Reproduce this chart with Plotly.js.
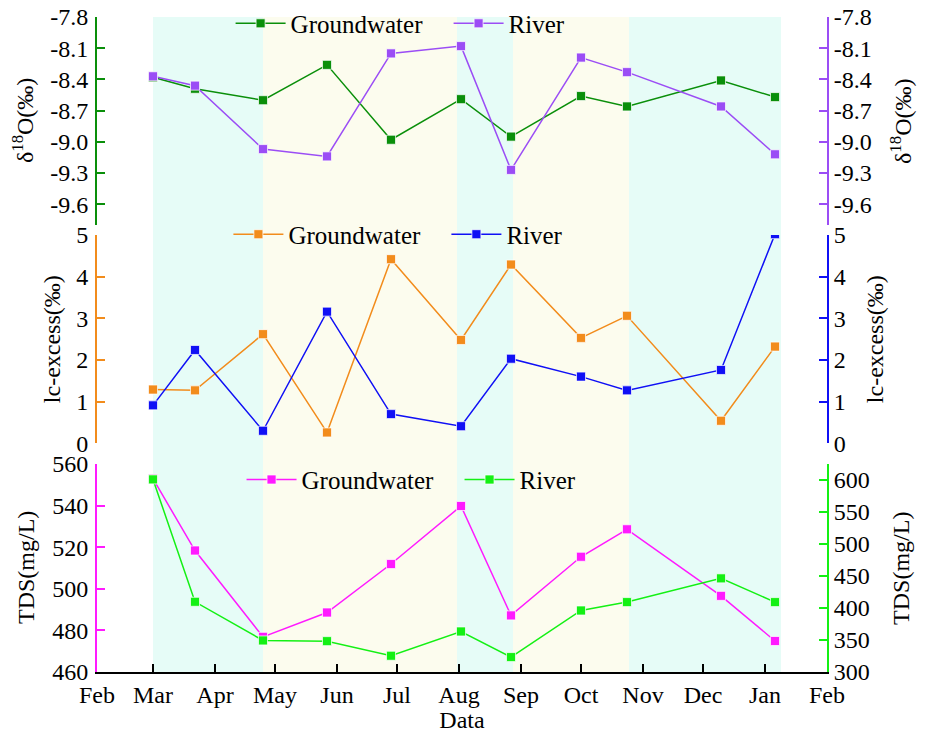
<!DOCTYPE html>
<html>
<head>
<meta charset="utf-8">
<script src="https://cdn.plot.ly/plotly-3.0.1.min.js"></script>
<style>html,body{margin:0;padding:0;background:#fff;}#chart{width:927px;height:733px;}</style>
</head>
<body>
<div id="chart"></div>
<script>
// ---- data ----
const sampleDates = ['2021-03-01','2021-03-22','2021-04-25','2021-05-27','2021-06-28','2021-08-02','2021-08-27','2021-10-01','2021-10-24','2021-12-10','2022-01-06'];
const d18O_groundwater = [-8.38,-8.49,-8.60,-8.26,-8.98,-8.59,-8.95,-8.56,-8.66,-8.41,-8.57];
const d18O_river = [-8.37,-8.46,-9.07,-9.14,-8.15,-8.08,-9.27,-8.19,-8.33,-8.66,-9.12];
const lcexcess_groundwater = [1.29,1.27,2.62,0.26,4.42,2.48,4.29,2.53,3.06,0.54,2.32];
const lcexcess_river = [0.91,2.24,0.30,3.16,0.70,0.41,2.03,1.60,1.27,1.76,5.02];
const tds_groundwater = [552.9,518.4,476.9,488.6,511.9,539.8,487.2,515.4,528.6,496.6,474.9];
const tds_river = [600.9,409.7,349.3,348.2,325.4,363.3,323.3,396.1,409.2,446.3,409.2];
const periodStart = ['2021-03-01','2021-04-25','2021-07-31','2021-08-28','2021-10-25'];
const periodEnd   = ['2021-04-25','2021-07-31','2021-08-28','2021-10-25','2022-01-09'];
const periodType  = ['A','B','A','B','A'];
const d18OTickVals = [-7.8,-8.1,-8.4,-8.7,-9.0,-9.3,-9.6];
const d18OTickText = ['-7.8','-8.1','-8.4','-8.7','-9.0','-9.3','-9.6'];
const seriesNames = ['Groundwater','River'];
const axisTitles = ['δ<sup>18</sup>O(‰)','lc-excess(‰)','TDS(mg/L)'];

// ---- styles ----
const FONT = '"Liberation Serif", "Times New Roman", serif';
const C = {
  gw1:'#0A8F0A', rv1:'#9B4DF5',
  gw2:'#F28C1C', rv2:'#1010F5',
  gw3:'#FF1AFF', rv3:'#14F014'
};
const periodColor = {A:'#E6FCF7', B:'#FCFCEE'};

function tr(y, name, color, yaxis, legend){
  return {
    x: sampleDates, y: y, name: name, type:'scatter', mode:'lines+markers',
    yaxis: yaxis, xaxis:'x', legend: legend,
    line:{color:color, width:1.5},
    marker:{symbol:'square', size:9, color:color, line:{color:'rgba(255,255,255,0.7)', width:1}}
  };
}
const data = [
  tr(d18O_groundwater, seriesNames[0], C.gw1, 'y', 'legend'),
  tr(d18O_river, seriesNames[1], C.rv1, 'y2', 'legend'),
  tr(lcexcess_groundwater, seriesNames[0], C.gw2, 'y3', 'legend2'),
  tr(lcexcess_river, seriesNames[1], C.rv2, 'y4', 'legend2'),
  tr(tds_groundwater, seriesNames[0], C.gw3, 'y5', 'legend3'),
  tr(tds_river, seriesNames[1], C.rv3, 'y6', 'legend3')
];

const tickFont = {family:FONT, size:24, color:'#000'};
const titleFont = {family:FONT, size:24, color:'#000'};
function yax(color, extra){
  const right = extra.side === 'right';
  return Object.assign({
    showline:true, linecolor:color, linewidth:2,
    ticks:'inside', ticklen:8, tickwidth:2, tickcolor:color,
    showgrid:false, zeroline:false, tickfont:tickFont,
    ticklabelstandoff: right ? 0 : 2
  }, extra);
}
const domTop=[0.6824,1], domMid=[0.3492,0.6672], domBot=[0,0.3176];

const shapes = periodStart.map((s,i)=>({
  type:'rect', xref:'x', yref:'paper', x0:s, x1:periodEnd[i], y0:0, y1:1,
  fillcolor:periodColor[periodType[i]], line:{width:0}, layer:'below'
}));

function leg(y, x){
  return {orientation:'h', x:x, xanchor:'left', y:y, yanchor:'middle',
    bgcolor:'rgba(0,0,0,0)', font:{family:FONT, size:25, color:'#000'},
    entrywidth:153, entrywidthmode:'pixels', itemwidth:50, tracegroupgap:0};
}

// y-axis titles as rotated text beside each axis
const titlePos = [
  {t:0, x:-0.1013, y:(domTop[0]+domTop[1])/2},
  {t:0, x:1.1013,  y:(domTop[0]+domTop[1])/2},
  {t:1, x:-0.0616, y:(domMid[0]+domMid[1])/2},
  {t:1, x:1.0658, y:(domMid[0]+domMid[1])/2},
  {t:2, x:-0.0972, y:(domBot[0]+domBot[1])/2},
  {t:2, x:1.1013, y:(domBot[0]+domBot[1])/2}
];
const annotations = titlePos.map(p=>({
  text:axisTitles[p.t], xref:'paper', yref:'paper', x:p.x, y:p.y,
  xanchor:'center', yanchor:'middle', textangle:-90, showarrow:false,
  font:titleFont
}));

const layout = {
  width:927, height:733,
  margin:{l:97, r:100, t:17, b:61, autoexpand:false},
  paper_bgcolor:'#fff', plot_bgcolor:'#fff',
  showlegend:true,
  xaxis:{
    type:'date', range:['2021-02-01','2022-02-01'], anchor:'y5',
    dtick:'M1', tick0:'2021-02-01', tickformat:'%b',
    showline:true, linecolor:'#000', linewidth:2,
    ticks:'inside', ticklen:8, tickwidth:2, tickcolor:'#000',
    showgrid:false, zeroline:false, tickfont:tickFont,
    title:{text:'Data', font:titleFont, standoff:10}
  },
  yaxis: yax(C.gw1, {domain:domTop, range:[-9.8,-7.8], anchor:'x', tickmode:'array', tickvals:d18OTickVals, ticktext:d18OTickText}),
  yaxis2: yax(C.rv1, {overlaying:'y', side:'right', anchor:'x', range:[-9.8,-7.8], tickmode:'array', tickvals:d18OTickVals, ticktext:d18OTickText}),
  yaxis3: yax(C.gw2, {domain:domMid, range:[0,5], anchor:'x', dtick:1, tick0:0}),
  yaxis4: yax(C.rv2, {overlaying:'y3', side:'right', anchor:'x', range:[0,5], dtick:1, tick0:0}),
  yaxis5: yax(C.gw3, {domain:domBot, range:[460,560], anchor:'x', dtick:20, tick0:460}),
  yaxis6: yax(C.rv3, {overlaying:'y5', side:'right', anchor:'x', range:[300,625], dtick:50, tick0:300}),
  legend: leg(0.990, 0.183),
  legend2: leg(0.668, 0.180),
  legend3: leg(0.2935, 0.198),
  shapes: shapes,
  annotations: annotations
};

Plotly.newPlot('chart', data, layout, {staticPlot:true, displayModeBar:false});
</script>
</body>
</html>
